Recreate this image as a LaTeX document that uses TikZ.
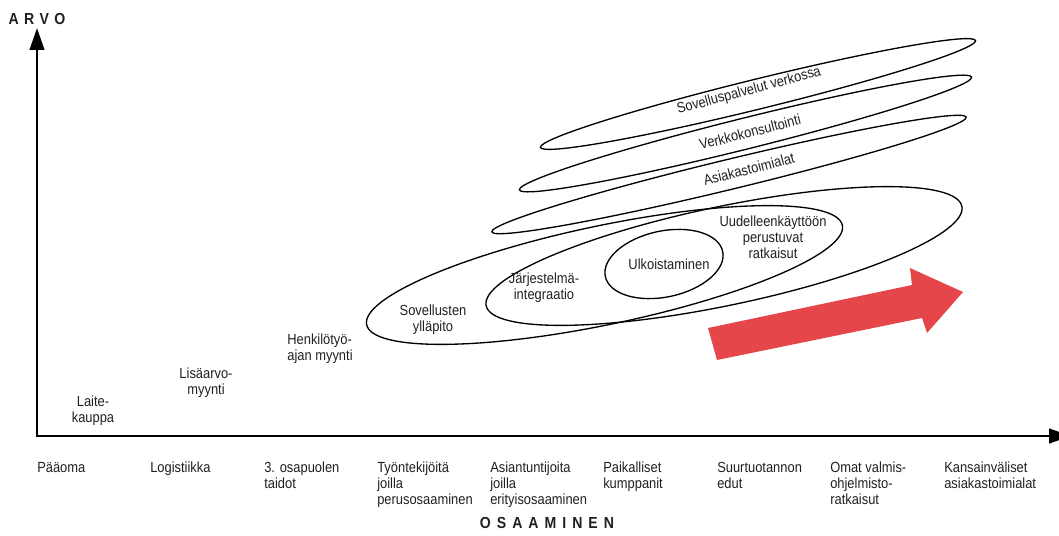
\documentclass[tikz,border=0pt]{standalone}
\usepackage{fontspec}
\setmainfont{Liberation Sans}[FakeStretch=0.88]
\usetikzlibrary{arrows.meta}
\definecolor{arrowred}{RGB}{228,70,74}
\definecolor{txt}{RGB}{35,31,32}
\begin{document}
\begin{tikzpicture}[x=0.75pt,y=-0.75pt,
  lbl/.style={inner sep=0pt, font=\fontsize{11}{12}\selectfont, text=txt},
  lblc/.style={lbl, align=center},
  axlbl/.style={lbl, anchor=north west, align=left},
  ttl/.style={inner sep=0pt, font=\bfseries\fontsize{12}{14}\selectfont, text=txt},
  axisline/.style={line width=1.5pt, line join=miter,
    {Triangle[length=16.5pt,width=11pt]}-{Triangle[length=16.5pt,width=11pt]}},
  ell/.style={line width=1pt}]
\useasboundingbox (0,0) rectangle (1059,535);

% axes
\coordinate (O) at (37,436);
\coordinate (Ytip) at (37,28);
\coordinate (Xtip) at (1071,436);
\draw[axisline] (Ytip) -- (O) -- (Xtip);

\node[ttl] (arvo) at (37,19) {A\hspace{4pt}R\hspace{4pt}V\hspace{4pt}O};
\node[ttl] (osaaminen) at (547,523) {O\hspace{4.5pt}S\hspace{4.5pt}A\hspace{4.5pt}A\hspace{4.5pt}M\hspace{4.5pt}I\hspace{4.5pt}N\hspace{4.5pt}E\hspace{4.5pt}N};

% thin ellipses
\draw[ell, rotate around={13.8:(758,94)}] (758,94) ellipse [x radius=168pt, y radius=11.25pt];
\draw[ell, rotate around={14.0:(745.5,133.5)}] (745.5,133.5) ellipse [x radius=174.75pt, y radius=11.6pt];
\draw[ell, rotate around={13.6:(729,174.5)}] (729,174.5) ellipse [x radius=183pt, y radius=11.25pt];
% Sovellusten ylläpito
\draw[ell, rotate around={11.8:(604.5,275)}] (604.5,275) ellipse [x radius=182.25pt, y radius=37.1pt];
% Järjestelmäintegraatio
\draw[ell, rotate around={11.8:(724,256)}] (724,256) ellipse [x radius=182.25pt, y radius=37.1pt];
% Ulkoistaminen
\draw[ell, rotate around={12:(664,264)}] (664,264) ellipse [x radius=45pt, y radius=24.75pt];

% red arrow
\fill[arrowred] (708,328) -- (912,285) -- (910,268) -- (963,292) -- (927,333) -- (922,318) -- (717,360) -- cycle;

% labels inside the chart
\node[lblc, rotate=15] (sov) at (749,91) {Sovelluspalvelut verkossa};
\node[lblc, rotate=14.3] (verk) at (750,132) {Verkkokonsultointi};
\node[lblc, rotate=14.3] (asiak) at (749,169) {Asiakastoimialat};
\node[lblc] (uud) at (773,237) {Uudelleenkäyttöön\\perustuvat\\ratkaisut};
\node[lblc] (ulk) at (669,264) {Ulkoistaminen};
\node[lblc] (jarj) at (544,288) {Järjestelmä-\\integraatio};
\node[lblc] (yll) at (433,320) {Sovellusten\\ylläpito};
\node[lbl, align=left] (henk) at (320,349) {Henkilötyö-\\ajan myynti};
\node[lblc] (lisa) at (206,383) {Lisäarvo-\\myynti};
\node[lblc] (laite) at (93,411) {Laite-\\kauppa};

% x axis labels
\node[axlbl] (x1) at (37,462) {Pääoma};
\node[axlbl] (x2) at (150,462) {Logistiikka};
\node[axlbl] (x3) at (264,462) {3. osapuolen\\taidot};
\node[axlbl] (x4) at (377,462) {Työntekijöitä\\joilla\\perusosaaminen};
\node[axlbl] (x5) at (490,462) {Asiantuntijoita\\joilla\\erityisosaaminen};
\node[axlbl] (x6) at (603,462) {Paikalliset\\kumppanit};
\node[axlbl] (x7) at (717,462) {Suurtuotannon\\edut};
\node[axlbl] (x8) at (830,462) {Omat valmis-\\ohjelmisto-\\ratkaisut};
\node[axlbl] (x9) at (944,462) {Kansainväliset\\asiakastoimialat};
\end{tikzpicture}
\end{document}
